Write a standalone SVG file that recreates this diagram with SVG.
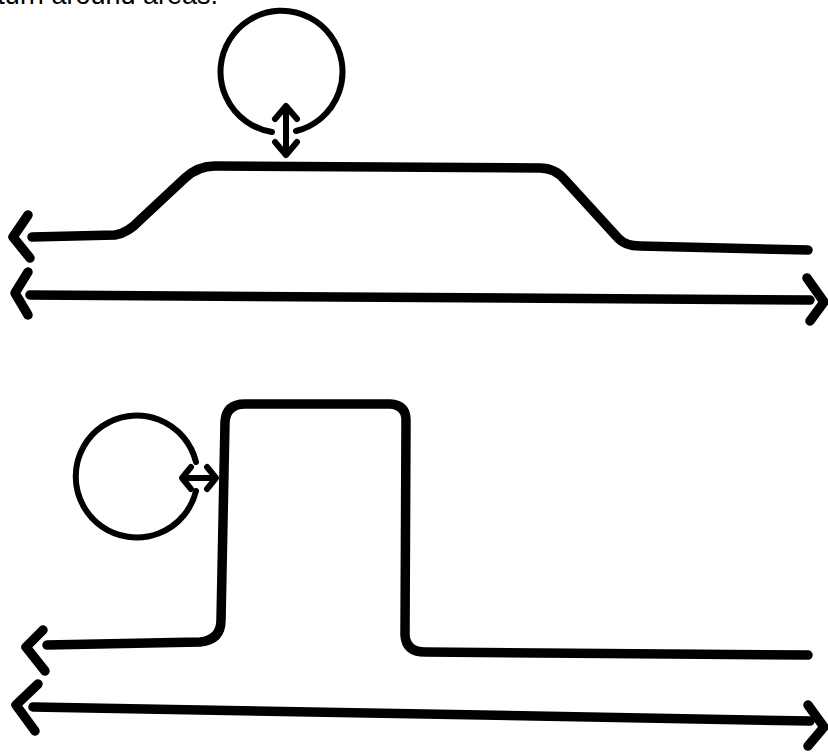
<svg xmlns="http://www.w3.org/2000/svg" width="828" height="753" viewBox="0 0 828 753">
<style>
.thick{fill:none;stroke:#000;stroke-width:9.5;stroke-linecap:round;stroke-linejoin:round}
.thin{fill:none;stroke:#000;stroke-width:6;stroke-linecap:round;stroke-linejoin:round}
.lbl{font-family:"Liberation Sans",Arial,sans-serif;font-size:27px;fill:#000}
</style>
<rect width="828" height="753" fill="#fff"/>
<text class="lbl" x="218" y="4" text-anchor="end">turn around areas.</text>
<g id="top-circle">
<path class="thin" d="M 272 132 A 61 61 0 1 1 296 131"/>
</g>
<g id="top-hill">
<path class="thick" d="M 32 237 L 115 235 Q 128 233 140 220 L 185 178 Q 198 166 215 166 L 540 168 Q 555 168 565 180 L 618 238 Q 625 246 640 246 L 808 250"/>
<path class="thick" d="M 28 215 L 13 237 L 30 258"/>
</g>
<g id="top-span">
<path class="thick" d="M 30 295 L 810 300"/>
<path class="thick" d="M 28 272 L 15 293 L 28 315"/>
<path class="thick" d="M 807 278 L 824 302 L 810 321"/>
</g>
<g id="bottom-circle">
<path class="thin" d="M 196 462 A 61 61 0 1 0 196 491"/>
</g>
<g id="bottom-wall">
<path class="thick" d="M 47 645 L 200 642 Q 221 640 221 620 L 225 422 Q 226 404 245 404 L 390 404 Q 406 405 406 420 L 405 635 Q 406 652 425 652 L 808 655"/>
<path class="thick" d="M 43 630 L 26 647 L 45 671"/>
</g>
<g id="bottom-span">
<path class="thick" d="M 33 707 L 810 721"/>
<path class="thick" d="M 38 684 L 16 705 L 35 731"/>
<path class="thick" d="M 808 705 L 824 727 L 808 746"/>
</g>
<g id="connectors">
<path class="thin" d="M 286 108 L 286 153"/>
<path class="thin" d="M 275 119 L 286 106 L 297 119"/>
<path class="thin" d="M 275 142 L 286 155 L 297 142"/>
<path class="thin" d="M 185 478 L 213 478"/>
<path class="thin" d="M 191 467 L 182 478 L 191 489"/>
<path class="thin" d="M 207 467 L 216 478 L 207 489"/>
</g>
</svg>
